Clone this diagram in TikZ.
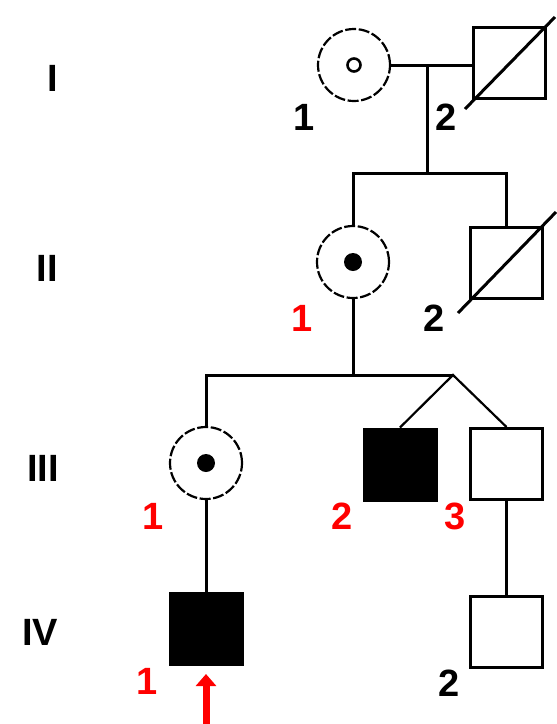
\documentclass[tikz,border=0pt]{standalone}
\usepackage{fontspec}
\setmainfont{Liberation Sans}
\usetikzlibrary{arrows.meta}
\definecolor{labred}{RGB}{255,0,0}
\tikzset{
  line/.style={line width=3pt},
  fem/.style={circle, draw, line width=2.2pt, dash pattern=on 11pt off 2.6pt,
              minimum size=72pt, inner sep=0pt},
  male/.style={rectangle, draw, line width=3pt, minimum width=72pt,
               minimum height=71pt, inner sep=0pt},
  affected/.style={male, fill=black},
  num/.style={font=\fontsize{38}{38}\selectfont\bfseries, inner sep=0pt,
              text height=27pt, text depth=0pt, anchor=center},
  rednum/.style={num, text=labred},
  gen/.style={num},
  deceased/.style={line width=3pt},
  probandarrow/.style={draw=labred, line width=7pt,
                       -{Triangle[width=20pt,length=12pt]}}
}
\begin{document}
\begin{tikzpicture}[x=1pt,y=-1pt]
\useasboundingbox (0,0) rectangle (557,724);

% generation numerals
\node[gen] (gI)   at (53,78)  {I};
\node[gen] (gII)  at (47,268) {II};
\node[gen] (gIII) at (43,468) {III};
\node[gen] (gIV)  at (40,632) {IV};

% generation I
\node[fem]  (i1) at (354,65) {};
\draw[line width=2.6pt] (i1.center) circle (6.5pt);
\node[male] (i2) at (509,63) {};
\draw[deceased] (465,109) -- (555,17);
\node[num] (li1) at (304,117) {1};
\node[num] (li2) at (446,117) {2};

% generation II
\node[fem]  (ii1) at (353,262) {};
\fill (ii1.center) circle (9pt);
\node[male] (ii2) at (506,262.5) {};
\draw[deceased] (458,313) -- (556,212);
\node[rednum] (lii1) at (302,318) {1};
\node[num]    (lii2) at (434,318) {2};

% generation III
\node[fem]      (iii1) at (206,463) {};
\fill (iii1.center) circle (9pt);
\node[affected] (iii2) at (400,464.5) {};
\node[male]     (iii3) at (506.5,464) {};
\node[rednum] (liii1) at (153,516) {1};
\node[rednum] (liii2) at (342,516) {2};
\node[rednum] (liii3) at (455,516) {3};

% generation IV
\node[affected] (iv1) at (206,629) {};
\node[male]     (iv2) at (506.5,632) {};
\node[rednum] (liv1) at (147,681) {1};
\node[num]    (liv2) at (449,683) {2};

% junction points
\coordinate (m1) at (427,67);
\coordinate (s1) at (427,173);
\coordinate (s2) at (353,375);
\coordinate (tw) at (453,375);
\coordinate (arr) at (206,724);

% connectors
\draw[line] (i1.east) -- (i1.east -| i2.west);
\draw[line] (m1) -- (s1);
\draw[line] (ii1.north) |- (s1) -| (ii2.north);
\draw[line] (ii1.south) -- (s2);
\draw[line] (iii1.north) |- (tw);
\draw[line width=2.2pt] (iii2.north) -- (tw) -- (iii3.north);
\draw[line] (iii1.south) -- (iv1.north);
\draw[line] (iii3.south) -- (iv2.north);

% proband arrow
\draw[probandarrow] (arr) -- (206,674);
\end{tikzpicture}
\end{document}
